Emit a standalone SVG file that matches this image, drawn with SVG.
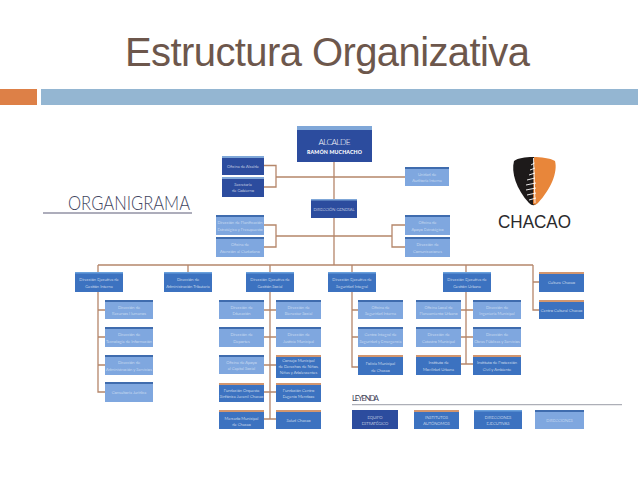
<svg xmlns="http://www.w3.org/2000/svg" width="638" height="479" viewBox="0 0 638 479">
<defs><style>
.n{fill:#2c4c9e}.e{fill:#3c72c0}.d{fill:#7fa7df}
.sl{fill:#7fa7d8}.sd{fill:#3f6cae}.so{fill:#d2966f}.se{fill:#69a0dc}
text{font-family:"Lato","Open Sans","Liberation Sans",sans-serif;fill:#fff;text-anchor:middle;font-size:4.1px;font-weight:300}
.dt{fill:#e4edf9}
#connectors path{fill:none;stroke:#b5866a;stroke-width:1.3}
</style></defs>
<rect width="638" height="479" fill="#fff"/>
<text x="125" y="66" style="font-family:'Liberation Sans',Arial,sans-serif;font-size:40px;font-weight:400;fill:#6d574c;text-anchor:start" textLength="405">Estructura Organizativa</text>
<rect x="0" y="89" width="37" height="16" fill="#dd8047"/>
<rect x="41" y="89" width="597" height="16" fill="#94b6d2"/>

<g id="organigrama-title">
<text x="129" y="210" style="font-size:20px;font-weight:300;fill:#3f4560" textLength="122" lengthAdjust="spacingAndGlyphs">ORGANIGRAMA</text>
<rect x="43" y="212.400" width="149" height="1.200" fill="#77788f"/>
</g>

<g id="logo-chacao">
<path d="M533 157C525 157 518 158 514 161C511 172 516 189 529 203Q533 207 536 204L534 157Z" fill="#1d1a1a"/>
<path d="M533 157C541 157 550 158 555 161C558 172 551 189 538 203Q535 206 533 204L534 157Z" fill="#e8863a"/>
<g fill="none" stroke="#fff" stroke-width="0.9">
<path d="M533.500 158L535 203"/>
<path d="M531 165L534.500 163M530 170L535 168M529 175L535 173M527 180L535 178M526 185L536 183M526 190L536 188M527 195L536 193M529 200L536 198"/>
</g>
<text x="534.500" y="228" style="font-family:'Liberation Sans',Arial,sans-serif;font-size:17.500px;font-weight:400;fill:#2a2a2c" textLength="73" lengthAdjust="spacingAndGlyphs">CHACAO</text>
</g>

<g id="connectors">
<path d="M334 162V199M276 177H405M264 165.500H276V187H264"/>
<path d="M334 218V265M276 236H392M264 225H276V247H264M405 225H392V247H405"/>
<path d="M98 265H533"/>
<path d="M98 265V272M188 265V272M270 265V272M352 265V272M466 265V272M533 265V310H539M533 282H539"/>
<path d="M98 292V392H105M98 310H105M98 337H105M98 365H105"/>
<path d="M270 292V419M264 310H276M264 337H276M264 365H276M264 392H276M264 419H276"/>
<path d="M352 292V367H358M352 310H358M352 337H358"/>
<path d="M466 292V364M461 310H473M461 337H473M461 364H473"/>
</g>

<g id="alcalde"><rect class="n" x="297" y="126" width="75" height="36"/><rect class="sl" x="297" y="126" width="75" height="4"/>
<text x="334.500" y="145" style="font-size:8.400px;font-weight:300" textLength="32">ALCALDE</text>
<text x="334.500" y="154" style="font-size:5.200px;font-weight:900" textLength="55">RAMÓN MUCHACHO</text></g>
<g id="oficina-alcalde"><rect class="n" x="222" y="156" width="42" height="19"/><rect class="sl" x="222" y="156" width="42" height="2"/><text x="243" y="167.500">Oficina de Alcalde</text></g>
<g id="secretaria"><rect class="n" x="222" y="177" width="42" height="20"/><rect class="sl" x="222" y="177" width="42" height="2"/><text x="243" y="185.500">Secretaría</text><text x="243" y="192">de Gobierno</text></g>
<g id="auditoria"><rect class="d" x="405" y="167" width="44" height="19"/><rect class="sd" x="405" y="167" width="44" height="2"/><text x="427" y="175.500" class="dt">Unidad de</text><text x="427" y="182" class="dt">Auditoría Interna</text></g>
<g id="direccion-general"><rect class="n" x="311" y="199" width="46" height="19"/><rect class="sl" x="311" y="199" width="46" height="1.500"/><text x="334" y="210.500">DIRECCIÓN GENERAL</text></g>
<g id="planificacion"><rect class="d" x="216" y="215" width="48" height="20"/><rect class="sd" x="216" y="215" width="48" height="2"/><text x="240" y="224" class="dt">Dirección de Planificación</text><text x="240" y="230.500" class="dt">Estratégica y Presupuesto</text></g>
<g id="atencion"><rect class="d" x="216" y="237" width="48" height="20"/><rect class="sd" x="216" y="237" width="48" height="2"/><text x="240" y="246" class="dt">Oficina de</text><text x="240" y="252.500" class="dt">Atención al Ciudadano</text></g>
<g id="apoyo"><rect class="d" x="405" y="215" width="45" height="20"/><rect class="sd" x="405" y="215" width="45" height="2"/><text x="427.500" y="224" class="dt">Oficina de</text><text x="427.500" y="230.500" class="dt">Apoyo Estratégico</text></g>
<g id="comunicaciones"><rect class="d" x="405" y="237" width="45" height="20"/><rect class="sd" x="405" y="237" width="45" height="2"/><text x="427.500" y="246" class="dt">Dirección de</text><text x="427.500" y="252.500" class="dt">Comunicaciones</text></g>

<g id="gestion-interna"><rect class="e" x="75" y="272" width="48" height="20"/><rect class="se" x="75" y="272" width="48" height="1.500"/><text x="99" y="281">Dirección Ejecutiva de</text><text x="99" y="287.500">Gestión Interna</text></g>
<g id="admin-tributaria"><rect class="e" x="164" y="272" width="48" height="20"/><rect class="se" x="164" y="272" width="48" height="1.500"/><text x="188" y="281">Dirección de</text><text x="188" y="287.500">Administración Tributaria</text></g>
<g id="gestion-social"><rect class="e" x="246" y="272" width="48" height="20"/><rect class="se" x="246" y="272" width="48" height="1.500"/><text x="270" y="281">Dirección Ejecutiva de</text><text x="270" y="287.500">Gestión Social</text></g>
<g id="seguridad-integral"><rect class="e" x="328" y="272" width="48" height="20"/><rect class="se" x="328" y="272" width="48" height="1.500"/><text x="352" y="281">Dirección Ejecutiva de</text><text x="352" y="287.500">Seguridad Integral</text></g>
<g id="gestion-urbana"><rect class="e" x="443" y="272" width="48" height="20"/><rect class="se" x="443" y="272" width="48" height="1.500"/><text x="467" y="281">Dirección Ejecutiva de</text><text x="467" y="287.500">Gestión Urbana</text></g>
<g id="cultura"><rect class="e" x="539" y="272" width="45" height="20"/><rect class="so" x="539" y="272" width="45" height="2"/><text x="561.500" y="283.500">Cultura Chacao</text></g>
<g id="centro-cultural"><rect class="e" x="539" y="300" width="45" height="19"/><rect class="so" x="539" y="300" width="45" height="2"/><text x="561.500" y="311.500">Centro Cultural Chacao</text></g>

<g id="rrhh"><rect class="d" x="105" y="300" width="48" height="19"/><rect class="sd" x="105" y="300" width="48" height="2"/><text x="129" y="308.500" class="dt">Dirección de</text><text x="129" y="315" class="dt">Recursos Humanos</text></g>
<g id="tecnologia"><rect class="d" x="105" y="327" width="48" height="20"/><rect class="sd" x="105" y="327" width="48" height="2"/><text x="129" y="336" class="dt">Dirección de</text><text x="129" y="342.500" class="dt">Tecnología de Información</text></g>
<g id="administracion"><rect class="d" x="105" y="355" width="48" height="20"/><rect class="sd" x="105" y="355" width="48" height="2"/><text x="129" y="364" class="dt">Dirección de</text><text x="129" y="370.500" class="dt">Administración y Servicios</text></g>
<g id="consultoria"><rect class="d" x="105" y="382" width="48" height="20"/><rect class="sd" x="105" y="382" width="48" height="2"/><text x="129" y="394" class="dt">Consultoría Jurídica</text></g>

<g id="educacion"><rect class="d" x="219" y="300" width="45" height="19"/><rect class="sd" x="219" y="300" width="45" height="2"/><text x="241.500" y="308.500" class="dt">Dirección de</text><text x="241.500" y="315" class="dt">Educación</text></g>
<g id="deportes"><rect class="d" x="219" y="327" width="45" height="20"/><rect class="sd" x="219" y="327" width="45" height="2"/><text x="241.500" y="336" class="dt">Dirección de</text><text x="241.500" y="342.500" class="dt">Deportes</text></g>
<g id="capital-social"><rect class="d" x="219" y="355" width="45" height="19"/><rect class="sd" x="219" y="355" width="45" height="2"/><text x="241.500" y="363.500" class="dt">Oficina de Apoyo</text><text x="241.500" y="370" class="dt">al Capital Social</text></g>
<g id="orquesta"><rect class="e" x="219" y="383" width="45" height="19"/><rect class="so" x="219" y="383" width="45" height="2"/><text x="241.500" y="391.500">Fundación Orquesta</text><text x="241.500" y="398">Sinfónica Juvenil Chacao</text></g>
<g id="mercado"><rect class="e" x="219" y="410" width="45" height="19"/><rect class="so" x="219" y="410" width="45" height="2"/><text x="241.500" y="420">Mercado Municipal</text><text x="241.500" y="426">de Chacao</text></g>

<g id="bienestar"><rect class="d" x="276" y="300" width="45" height="19"/><rect class="sd" x="276" y="300" width="45" height="2"/><text x="298.500" y="308.500" class="dt">Dirección de</text><text x="298.500" y="315" class="dt">Bienestar Social</text></g>
<g id="justicia"><rect class="d" x="276" y="327" width="45" height="20"/><rect class="sd" x="276" y="327" width="45" height="2"/><text x="298.500" y="336" class="dt">Dirección de</text><text x="298.500" y="342.500" class="dt">Justicia Municipal</text></g>
<g id="consejo"><rect class="e" x="276" y="355" width="45" height="23"/><rect class="so" x="276" y="355" width="45" height="2"/><text x="298.500" y="362">Consejo Municipal</text><text x="298.500" y="368">de Derechos de Niños,</text><text x="298.500" y="374">Niñas y Adolescentes</text></g>
<g id="eugenio"><rect class="e" x="276" y="383" width="45" height="19"/><rect class="so" x="276" y="383" width="45" height="2"/><text x="298.500" y="391.500">Fundación Centro</text><text x="298.500" y="398">Eugenio Mendoza</text></g>
<g id="salud"><rect class="e" x="276" y="410" width="45" height="19"/><rect class="so" x="276" y="410" width="45" height="2"/><text x="298.500" y="422">Salud Chacao</text></g>

<g id="seguridad-interna"><rect class="d" x="358" y="300" width="45" height="19"/><rect class="sd" x="358" y="300" width="45" height="2"/><text x="380.500" y="308.500" class="dt">Oficina de</text><text x="380.500" y="315" class="dt">Seguridad Interna</text></g>
<g id="centro-seguridad"><rect class="d" x="358" y="327" width="45" height="20"/><rect class="sd" x="358" y="327" width="45" height="2"/><text x="380.500" y="336" class="dt">Centro Integral de</text><text x="380.500" y="342.500" class="dt">Seguridad y Emergencia</text></g>
<g id="policia"><rect class="e" x="358" y="355" width="45" height="20"/><rect class="so" x="358" y="355" width="45" height="2"/><text x="380.500" y="365">Policía Municipal</text><text x="380.500" y="371.500">de Chacao</text></g>

<g id="planeamiento"><rect class="d" x="416" y="300" width="45" height="19"/><rect class="sd" x="416" y="300" width="45" height="2"/><text x="438.500" y="308.500" class="dt">Oficina Local de</text><text x="438.500" y="315" class="dt">Planeamiento Urbano</text></g>
<g id="catastro"><rect class="d" x="416" y="327" width="45" height="20"/><rect class="sd" x="416" y="327" width="45" height="2"/><text x="438.500" y="336" class="dt">Dirección de</text><text x="438.500" y="342.500" class="dt">Catastro Municipal</text></g>
<g id="movilidad"><rect class="e" x="416" y="355" width="45" height="20"/><rect class="so" x="416" y="355" width="45" height="2"/><text x="438.500" y="364">Instituto de</text><text x="438.500" y="370.500">Movilidad Urbana</text></g>

<g id="ingenieria"><rect class="d" x="473" y="300" width="48" height="19"/><rect class="sd" x="473" y="300" width="48" height="2"/><text x="497" y="308.500" class="dt">Dirección de</text><text x="497" y="315" class="dt">Ingeniería Municipal</text></g>
<g id="obras"><rect class="d" x="473" y="327" width="48" height="20"/><rect class="sd" x="473" y="327" width="48" height="2"/><text x="497" y="336" class="dt">Dirección de</text><text x="497" y="342.500" class="dt">Obras Públicas y Servicios</text></g>
<g id="proteccion"><rect class="e" x="473" y="355" width="48" height="20"/><rect class="so" x="473" y="355" width="48" height="2"/><text x="497" y="364">Instituto de Protección</text><text x="497" y="370.500">Civil y Ambiente</text></g>

<g id="leyenda">
<text x="352" y="401" style="font-size:7.600px;font-weight:400;fill:#3d4256;text-anchor:start" textLength="27">LEYENDA</text>
<rect x="352" y="404.200" width="270" height="1" fill="#9a9ca6"/>
<g id="ley-equipo"><rect class="n" x="352" y="410" width="46" height="19"/><text x="375" y="418.500">EQUIPO</text><text x="375" y="425">ESTRATÉGICO</text></g>
<g id="ley-institutos"><rect class="e" x="414" y="410" width="45" height="19"/><rect class="so" x="414" y="410" width="45" height="2"/><text x="436.500" y="418.500">INSTITUTOS</text><text x="436.500" y="425">AUTÓNOMOS</text></g>
<g id="ley-ejecutivas"><rect class="e" x="474" y="410" width="48" height="19"/><rect class="se" x="474" y="410" width="48" height="1.500"/><text x="498" y="418.500">DIRECCIONES</text><text x="498" y="425">EJECUTIVAS</text></g>
<g id="ley-direcciones"><rect class="d" x="535" y="410" width="49" height="19"/><rect class="sd" x="535" y="410" width="49" height="2"/><text x="559.500" y="421.500" class="dt">DIRECCIONES</text></g>
</g>
</svg>
